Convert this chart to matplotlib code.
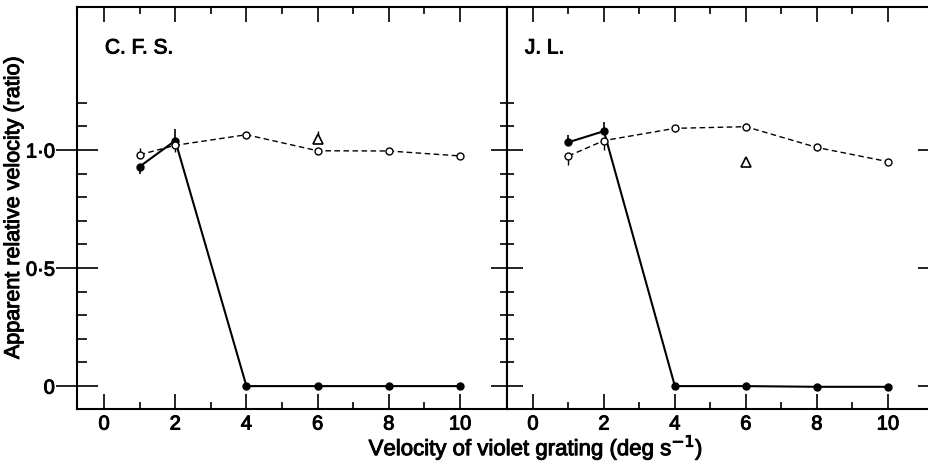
import matplotlib.pyplot as plt
import matplotlib.patheffects as pe
from matplotlib.ticker import FixedLocator, FixedFormatter

plt.rcParams['font.family'] = ['Liberation Sans', 'DejaVu Sans']

# velocity of violet grating (deg/s)
x = [1, 2, 4, 6, 8, 10]

# C. F. S.
cfs_solid = [0.93, 1.04, 0.0, 0.0, 0.0, 0.0]
cfs_solid_lo = [0.03, 0.0, 0, 0, 0, 0]
cfs_solid_hi = [0.0, 0.05, 0, 0, 0, 0]
cfs_dash = [0.98, 1.02, 1.065, 0.997, 0.996, 0.975]
cfs_dash_lo = [0.0, 0.03, 0.0, 0.0, 0.0, 0.0]
cfs_dash_hi = [0.03, 0.0, 0.0, 0.0, 0.01, 0.0]
cfs_tri_x = [6]
cfs_tri = [1.045]
cfs_tri_hi = [0.035]

# J. L.
jl_solid = [1.033, 1.08, 0.0, 0.0, -0.003, -0.003]
jl_solid_lo = [0.0, 0.0, 0, 0, 0, 0]
jl_solid_hi = [0.03, 0.04, 0, 0, 0, 0]
jl_dash = [0.975, 1.04, 1.092, 1.099, 1.011, 0.951]
jl_dash_lo = [0.04, 0.04, 0.015, 0.015, 0.01, 0.012]
jl_dash_hi = [0.0, 0.0, 0.015, 0.015, 0.01, 0.012]
jl_tri_x = [6]
jl_tri = [0.951]

major_x = [0, 2, 4, 6, 8, 10]
minor_x = [1, 3, 5, 7, 9]
major_y = [0, 0.5, 1.0]
major_y_labels = ['0', '0·5', '1·0']
minor_y = [0.1, 0.2, 0.3, 0.4, 0.6, 0.7, 0.8, 0.9, 1.1, 1.2]

# scanned print looks heavier than the plain font
heavy = [pe.withStroke(linewidth=0.7, foreground='black')]

fig = plt.figure(figsize=(9.29, 4.63), dpi=100)
W, H = 929, 463
ax1 = fig.add_axes([77 / W, 1 - 409 / H, 430 / W, 402 / H])
ax2 = fig.add_axes([507 / W, 1 - 409 / H, 427 / W, 402 / H])


def draw_panel(ax, name, name_x, solid, s_lo, s_hi, dash, d_lo, d_hi, tx, ty, t_hi):
    ax.errorbar(x, solid, yerr=[s_lo, s_hi], color='black', lw=1.5, elinewidth=1.2,
                marker='o', ms=5, mfc='black', mec='black', capsize=0, zorder=3)
    ax.errorbar(x, dash, yerr=[d_lo, d_hi], color='black', lw=1.0, ls=(0, (4, 2.5)),
                elinewidth=1.0, marker='o', ms=5, mfc='white', mec='black', mew=1.0,
                capsize=0, zorder=4)
    ax.errorbar(tx, ty, yerr=[[0] * len(tx), t_hi], color='black', ls='none',
                elinewidth=1.0, marker='^', ms=7, mfc='white', mec='black', mew=1.2,
                capsize=0, zorder=4)
    ax.text(name_x, 0.898, name, transform=ax.transAxes, fontsize=15,
            ha='left', va='center', path_effects=heavy)
    ax.set_ylim(-0.097, 1.606)
    ax.xaxis.set_major_locator(FixedLocator(major_x))
    ax.xaxis.set_minor_locator(FixedLocator(minor_x))
    ax.yaxis.set_major_locator(FixedLocator(major_y))
    ax.yaxis.set_minor_locator(FixedLocator(minor_y))
    ax.tick_params(axis='x', which='major', direction='in', length=11, width=1.2,
                   top=True, bottom=True, labelsize=14.5, pad=4)
    ax.tick_params(axis='x', which='minor', direction='in', length=5, width=1.2,
                   top=True, bottom=True)
    for s in ax.spines.values():
        s.set_linewidth(1.5)


draw_panel(ax1, 'C. F. S.', 0.065, cfs_solid, cfs_solid_lo, cfs_solid_hi, cfs_dash,
           cfs_dash_lo, cfs_dash_hi, cfs_tri_x, cfs_tri, cfs_tri_hi)
draw_panel(ax2, 'J. L.', 0.042, jl_solid, jl_solid_lo, jl_solid_hi, jl_dash,
           jl_dash_lo, jl_dash_hi, jl_tri_x, jl_tri, [0])

ax1.set_xlim(-0.76, 11.32)
ax2.set_xlim(-0.73, 11.3)

ax1.yaxis.set_major_formatter(FixedFormatter(major_y_labels))
ax1.tick_params(axis='y', which='major', direction='inout', length=30, width=1.2,
                left=True, right=False, labelsize=14.5, pad=1)
ax1.tick_params(axis='y', which='minor', direction='in', length=7, width=1.2,
                left=True, right=False)

ax2.tick_params(axis='y', which='major', direction='inout', length=23, width=1.2,
                left=True, right=True, labelleft=False)
ax2.tick_params(axis='y', which='minor', direction='inout', length=10, width=1.2,
                left=True, right=False)

for a in (ax1, ax2):
    for lab in a.get_xticklabels() + a.get_yticklabels():
        lab.set_path_effects(heavy)

ax1.set_ylabel('Apparent relative velocity (ratio)', fontsize=15.5, path_effects=heavy)
ax1.yaxis.set_label_coords(-53 / 430, 0.5)
fig.text(536 / W, 1 - 448 / H, 'Velocity of violet grating (deg s$^{-1}$)',
         fontsize=16, ha='center', va='center', path_effects=heavy)

fig.savefig('out.png', dpi=100)
